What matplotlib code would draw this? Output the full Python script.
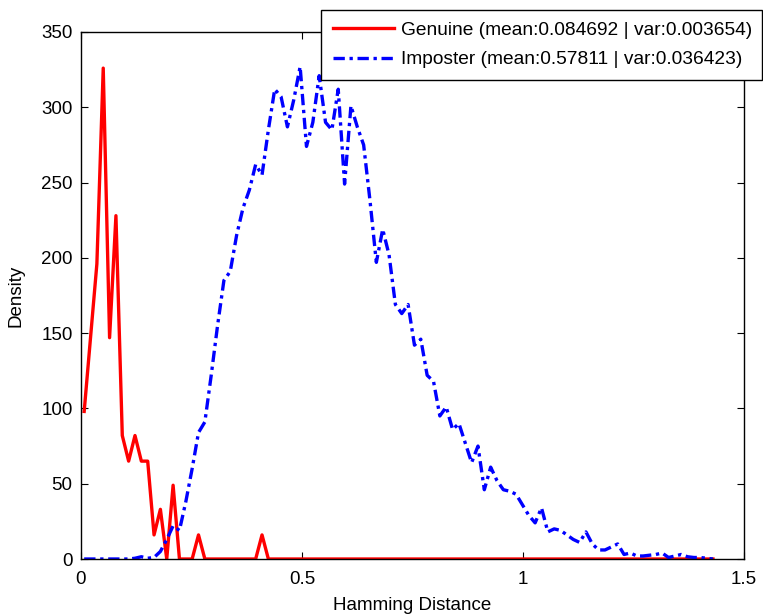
import numpy as np
import matplotlib
matplotlib.use('Agg')
import matplotlib.pyplot as plt

plt.rcParams['font.family'] = ['Liberation Sans', 'DejaVu Sans']

# histogram grid (100 bins), density values
bin_width = 0.01437
n_bins = 100

genuine = [98, 147, 196, 326, 147, 228, 82, 65, 82, 65,
           65, 16, 33, 0, 49, 0, 0, 0, 16, 0,
           0, 0, 0, 0, 0, 0, 0, 0, 16, 0] + [0] * 70

imposter = [0, 0, 0, 0, 0, 0, 0, 0, 0.5, 1.5,
            0.5, 1, 5, 13, 22, 19, 38, 60, 84, 91,
            122, 155, 185, 191, 215, 233, 245, 262, 255, 285,
            312, 307, 287, 305, 327, 274, 290, 321, 290, 285,
            312, 249, 301, 287, 275, 238, 197, 219, 202, 169,
            163, 169, 142, 146, 122, 118, 95, 101, 86, 90,
            77, 64, 75, 46, 61, 52, 46, 45, 43, 36,
            29, 24, 34, 18, 20, 19, 16, 13, 11, 18,
            10, 6, 6, 8, 10, 3, 4, 2, 2, 2.5,
            3, 4, 1, 2, 3, 1.5, 1, 1, 0.5, 0]

genuine_label = 'Genuine (mean:0.084692 | var:0.003654)'
imposter_label = 'Imposter (mean:0.57811 | var:0.036423)'

x = (np.arange(n_bins) + 0.5) * bin_width

fs = 13.5
fig = plt.figure(figsize=(7.63, 6.15), dpi=100)
ax = fig.add_axes([81/763, 1 - 559/615, (744 - 81)/763, (559 - 32)/615])

ax.plot(x, genuine, color='#ff0000', lw=2.4, label=genuine_label)
ax.plot(x, imposter, color='#0000ff', lw=2.4, dashes=[3.4, 1.4, 1.0, 1.4],
        label=imposter_label)

ax.set_xlim(0, 1.5)
ax.set_ylim(0, 350)
ax.set_xticks([0, 0.5, 1, 1.5])
ax.set_xticklabels(['0', '0.5', '1', '1.5'])
ax.set_yticks(range(0, 351, 50))
ax.tick_params(direction='in', length=5, width=0.8, labelsize=fs,
               top=True, right=True, pad=6)
ax.tick_params(axis='x', pad=9)
for s in ax.spines.values():
    s.set_linewidth(1.0)

ax.set_xlabel('Hamming Distance', fontsize=fs, labelpad=6)
ax.set_ylabel('Density', fontsize=fs, labelpad=12)

leg = fig.legend(loc='upper left',
                 bbox_to_anchor=(321/763, 1 - 10/615, (762 - 321)/763, 0.0),
                 mode='expand', fontsize=13.8, frameon=True, fancybox=False,
                 edgecolor='black', framealpha=1, handlelength=3.2,
                 handletextpad=0.35, borderpad=0.6, labelspacing=0.62,
                 borderaxespad=0)
leg.get_frame().set_linewidth(1.0)

fig.savefig('out.png', dpi=100)
